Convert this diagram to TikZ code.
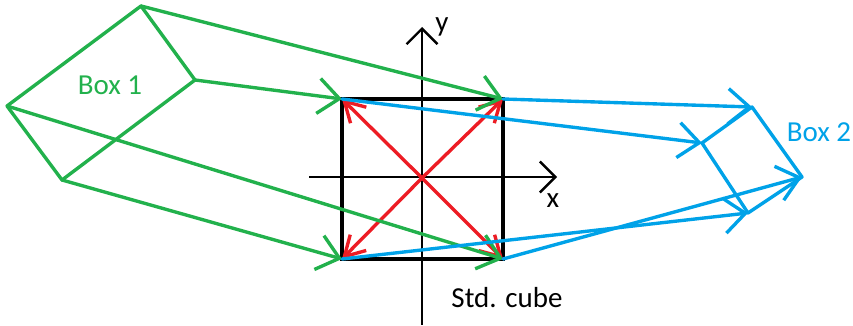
\documentclass[tikz,border=0pt]{standalone}
\usepackage{fontspec}
\setmainfont{Carlito}
\usetikzlibrary{arrows.meta}
\definecolor{boxonecolor}{RGB}{34,177,76}
\definecolor{boxtwocolor}{RGB}{0,162,232}
\definecolor{diagcolor}{RGB}{237,28,36}
\tikzset{
  openhead/.style={-{Straight Barb[length=15pt,width=25pt,line width=2.4pt]}},
  diaghead/.style={-{Straight Barb[length=14pt,width=16pt,line width=2.4pt]}},
  axishead/.style={-{Straight Barb[length=11pt,width=22pt,line width=1.7pt]}},
  boxline/.style={line width=2.4pt,line cap=round,line join=round},
  plainlabel/.style={font=\fontsize{20.6pt}{24pt}\selectfont,inner sep=0pt}
}
\begin{document}
\begin{tikzpicture}[x=0.025cm,y=-0.025cm]
    \useasboundingbox (0,0) rectangle (853,326);
    % box 1 corners
    \coordinate (onetop) at (141,6);
    \coordinate (oneright) at (195,80);
    \coordinate (oneleft) at (7,106);
    \coordinate (onebottom) at (62,180);
    % std. cube corners
    \coordinate (cubetl) at (342,99);
    \coordinate (cubetr) at (503,99);
    \coordinate (cubebl) at (342,259);
    \coordinate (cubebr) at (503,259);
    \coordinate (origin) at (422,178);
    % box 2 corners
    \coordinate (twoleft) at (702,143);
    \coordinate (twotop) at (752,107);
    \coordinate (tworight) at (802,177);
    \coordinate (twobottom) at (748,213);
    % axes ends
    \coordinate (xstart) at (309,177);
    \coordinate (xend) at (557,177);
    \coordinate (ystart) at (422,325);
    \coordinate (yend) at (422,27);
    % axes and cube
    \draw[axishead, line width=1.7pt] (xstart) -- (xend);
    \draw[axishead, line width=1.7pt] (ystart) -- (yend);
    \draw[black, line width=2.8pt] (cubetl) -- (cubetr) -- (cubebr) -- (cubebl) -- cycle;
    % diagonals
    \draw[diagcolor, boxline, diaghead] (origin) -- (cubetl);
    \draw[diagcolor, boxline, diaghead] (origin) -- (cubetr);
    \draw[diagcolor, boxline, diaghead] (origin) -- (cubebl);
    \draw[diagcolor, boxline, diaghead] (origin) -- (cubebr);
    % box 1
    \draw[boxonecolor, boxline] (onetop) -- (oneright) -- (onebottom) -- (oneleft) -- cycle;
    \draw[boxonecolor, boxline, openhead] (onetop) -- (cubetr);
    \draw[boxonecolor, boxline, openhead] (oneright) -- (cubetl);
    \draw[boxonecolor, boxline, openhead] (oneleft) -- (cubebr);
    \draw[boxonecolor, boxline, openhead] (onebottom) -- (cubebl);
    % box 2
    \draw[boxtwocolor, boxline] (twotop) -- (tworight) -- (twobottom) -- (twoleft) -- cycle;
    \draw[boxtwocolor, boxline, openhead] (cubetr) -- (twotop);
    \draw[boxtwocolor, boxline, openhead] (cubetl) -- (twoleft);
    \draw[boxtwocolor, boxline, openhead] (cubebl) -- (twobottom);
    \draw[boxtwocolor, boxline, openhead] (cubebr) -- (tworight);
    % labels
    \node[plainlabel, boxonecolor] (labelone) at (110,85) {Box 1};
    \node[plainlabel, boxtwocolor] (labeltwo) at (819,132) {Box 2};
    \node[plainlabel] (labelcube) at (507,298) {Std. cube};
    \node[plainlabel] (labelx) at (553,201) {x};
    \node[plainlabel] (labely) at (442,27) {y};
\end{tikzpicture}
\end{document}
